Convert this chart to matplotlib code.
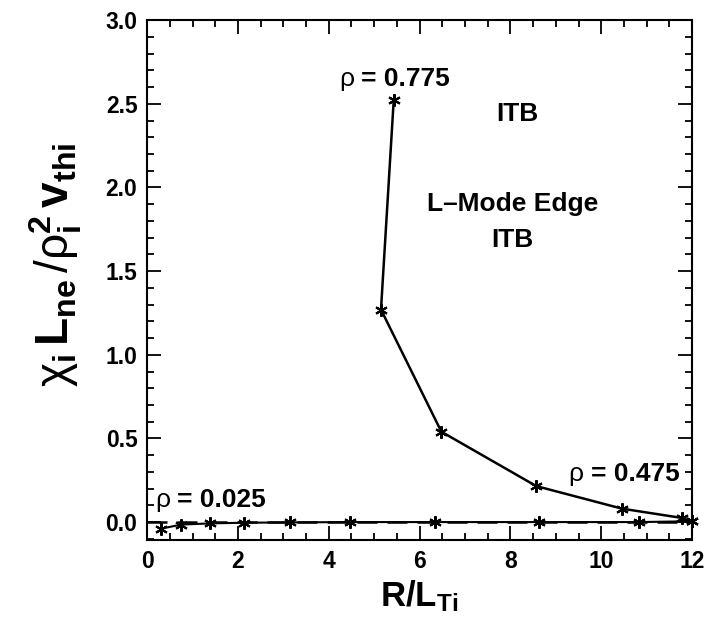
import matplotlib
matplotlib.use("Agg")
import matplotlib.pyplot as plt
from matplotlib.ticker import MultipleLocator
from matplotlib.offsetbox import TextArea, HPacker, AnnotationBbox

plt.rcParams['font.family'] = ['Liberation Sans', 'DejaVu Sans']
plt.rcParams['font.weight'] = 'normal'
plt.rcParams['mathtext.fontset'] = 'custom'
plt.rcParams['mathtext.rm'] = 'Liberation Sans'
plt.rcParams['mathtext.bf'] = 'Liberation Sans:bold'
plt.rcParams['mathtext.it'] = 'Liberation Sans:italic'

# Upper series (rho = 0.775 -> 0.475)
x_upper = [5.43, 5.15, 6.48, 8.57, 10.46, 11.77, 12.0]
y_upper = [2.52, 1.27, 0.54, 0.215, 0.08, 0.025, 0.005]
# Lower series (rho = 0.025)
x_lower = [0.3, 0.75, 1.38, 2.13, 3.15, 4.47, 6.33, 8.62, 10.83, 12.0]
y_lower = [-0.04, -0.015, -0.008, -0.004, -0.002, 0.0, 0.0, 0.0, 0.0, 0.005]

fig = plt.figure(figsize=(7.04, 6.31), dpi=100)
ax = fig.add_axes([0.209, 0.144, 0.774, 0.824])

ax.axhline(0.0, color='black', lw=1.8, ls=(0, (8, 4)))
ax.plot(x_lower, y_lower, color='black', lw=1.5, marker=(6, 2, 0), ms=9, mew=1.5, clip_on=False)
ax.plot(x_upper, y_upper, color='black', lw=1.8, marker=(6, 2, 0), ms=9, mew=1.5, clip_on=False)

ax.set_xlim(0, 12)
ax.set_ylim(-0.108, 3.0)
ax.xaxis.set_major_locator(MultipleLocator(2))
ax.xaxis.set_minor_locator(MultipleLocator(0.5))
ax.yaxis.set_major_locator(MultipleLocator(0.5))
ax.yaxis.set_minor_locator(MultipleLocator(0.1))
ax.yaxis.set_major_formatter(plt.FuncFormatter(lambda v, p: f"{v:.1f}"))
ax.tick_params(which='both', direction='in', top=True, right=True, width=1.3)
ax.tick_params(which='major', length=10, labelsize=16.5, pad=7)
ax.tick_params(which='minor', length=5)
for lab in ax.get_xticklabels() + ax.get_yticklabels():
    lab.set_fontweight('bold')
for s in ax.spines.values():
    s.set_linewidth(1.5)

ax.set_xlabel(r'$\mathbf{R/L_{Ti}}$', fontsize=25, labelpad=4)
ax.set_ylabel(r'$\mathrm{\chi}_{\mathbf{i}}\,\mathbf{L_{ne}}\,/\mathrm{\rho}_{\mathbf{i}}^{\mathbf{2}}\,\mathbf{v_{thi}}$',
              fontsize=33)
ax.yaxis.set_label_coords(-0.115, 0.53)

FS = 19


def rho_label(x, y, value):
    parts = HPacker(children=[
        TextArea('ρ', textprops=dict(fontsize=FS, fontweight='normal')),
        TextArea('= ' + value, textprops=dict(fontsize=FS, fontweight='bold')),
    ], sep=5, pad=0, align='baseline')
    ab = AnnotationBbox(parts, (x, y), xycoords='data', frameon=False,
                        box_alignment=(0.5, 0.5), pad=0)
    ax.add_artist(ab)


rho_label(5.44, 2.65, '0.775')
rho_label(10.5, 0.29, '0.475')
rho_label(1.4, 0.13, '0.025')

tf = dict(fontsize=FS, fontweight='bold', ha='center', va='center')
ax.text(8.15, 2.44, 'ITB', **tf)
ax.text(8.04, 1.90, 'L–Mode Edge', **tf)
ax.text(8.04, 1.685, 'ITB', **tf)

fig.savefig('out.png', dpi=100)
